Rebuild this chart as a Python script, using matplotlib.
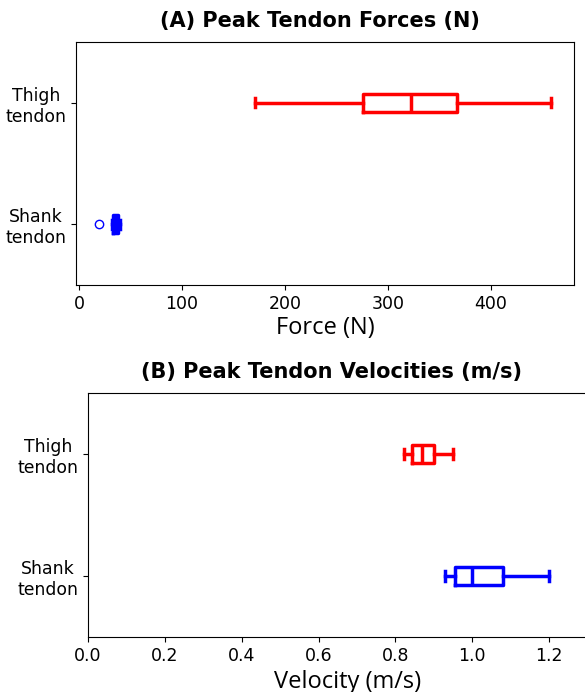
import matplotlib.pyplot as plt

# tendon summary stats (whislo, q1, med, q3, whishi, fliers)
labels = ['Shank\ntendon', 'Thigh\ntendon']
colors = ['blue', 'red']

force_lo = [31.5, 171]
force_q1 = [32.5, 276]
force_med = [35.0, 323]
force_q3 = [38.0, 367]
force_hi = [40.0, 459]
force_fliers = [[19.0], []]

vel_lo = [0.928, 0.822]
vel_q1 = [0.956, 0.844]
vel_med = [1.000, 0.868]
vel_q3 = [1.079, 0.901]
vel_hi = [1.200, 0.949]
vel_fliers = [[], []]


def make_stats(lo, q1, med, q3, hi, fl):
    out = []
    for i in range(len(labels)):
        out.append({'whislo': lo[i], 'q1': q1[i], 'med': med[i], 'q3': q3[i],
                    'whishi': hi[i], 'fliers': fl[i], 'label': labels[i]})
    return out


def draw(ax, stats):
    for i, (s, c) in enumerate(zip(stats, colors)):
        ax.bxp([s], positions=[i + 1], vert=False, widths=0.15,
               boxprops=dict(color=c, linewidth=2.5),
               medianprops=dict(color=c, linewidth=2.5),
               whiskerprops=dict(color=c, linewidth=2.5),
               capprops=dict(color=c, linewidth=2.5),
               flierprops=dict(marker='o', markerfacecolor='none',
                               markeredgecolor=c, markersize=6))
    ax.set_ylim(0.5, 2.5)
    ax.set_yticks([1, 2])
    ax.set_yticklabels(labels, fontsize=12.4, multialignment='center')
    ax.tick_params(axis='x', labelsize=12.5)


fig = plt.figure(figsize=(5.85, 6.92), dpi=100)
ax1 = fig.add_axes([0.130, 0.588, 0.851, 0.351])
ax2 = fig.add_axes([0.1504, 0.0795, 0.887, 0.3525])

draw(ax1, make_stats(force_lo, force_q1, force_med, force_q3, force_hi, force_fliers))
ax1.set_xlim(-3, 481)
ax1.set_xlabel('Force (N)', fontsize=17, family='Open Sans', labelpad=2)
ax1.set_title('(A) Peak Tendon Forces (N)', fontsize=15, fontweight='bold',
              x=0.49, pad=11)

draw(ax2, make_stats(vel_lo, vel_q1, vel_med, vel_q3, vel_hi, vel_fliers))
ax2.set_xlim(0, 1.35)
ax2.set_xticks([0.0, 0.2, 0.4, 0.6, 0.8, 1.0, 1.2])
ax2.set_xlabel('Velocity (m/s)', fontsize=17, family='Open Sans')
ax2.set_title('(B) Peak Tendon Velocities (m/s)', fontsize=15, fontweight='bold',
              x=0.47, pad=11)

fig.savefig('out.png', dpi=100)
